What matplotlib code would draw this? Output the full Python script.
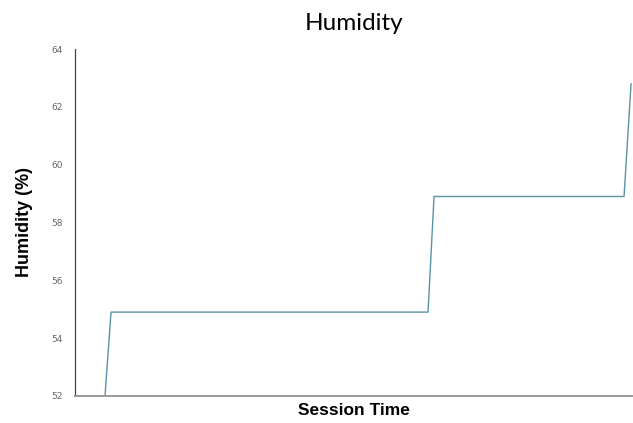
import matplotlib
matplotlib.use("Agg")
import matplotlib.pyplot as plt

# session time (arbitrary units) and humidity readings
session_time = [0, 30, 36, 353, 359, 549, 556]
humidity = [52, 52, 54.9, 54.9, 58.9, 58.9, 62.8]
y_ticks = [52, 54, 56, 58, 60, 62, 64]

fig = plt.figure(figsize=(6.33, 4.23), dpi=100)
ax = fig.add_axes([0.1185, 0.064, 0.88, 0.82])

ax.plot(session_time, humidity, color="#5b93a5", linewidth=1.0)

ax.set_xlim(0, 557)
ax.set_ylim(52, 64)
ax.set_xticks([])
ax.set_yticks(y_ticks)
ax.tick_params(axis="y", length=0, pad=9, labelsize=6.5, labelcolor="#666666")

for side in ("top", "right"):
    ax.spines[side].set_visible(False)
ax.spines["left"].set_color("#444444")
ax.spines["left"].set_linewidth(0.9)
ax.spines["bottom"].set_color("#999999")
ax.spines["bottom"].set_linewidth(1.4)

ax.set_ylabel("Humidity (%)", fontsize=13, fontweight="bold",
              family="Liberation Sans", labelpad=13)
ax.set_xlabel("Session Time", fontsize=12.5, fontweight="bold",
              family="Liberation Sans", labelpad=5)
fig.suptitle("Humidity", fontsize=17.5, y=0.97, x=0.56, family="Lato")

fig.savefig("out.png", dpi=100)
